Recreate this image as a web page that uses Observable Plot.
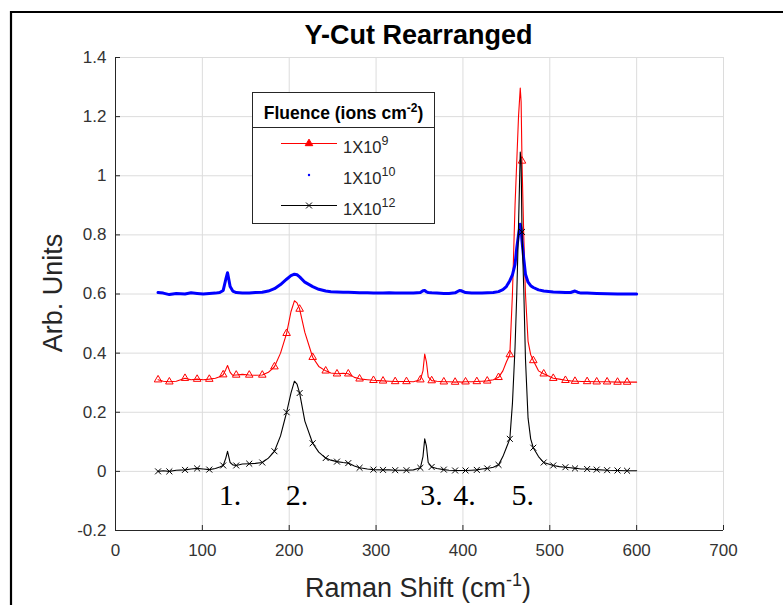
<!DOCTYPE html>
<html>
<head>
<meta charset="utf-8">
<script src="https://cdn.jsdelivr.net/npm/d3@7"></script>
<script src="https://cdn.jsdelivr.net/npm/@observablehq/plot@0.6"></script>
<style>
  html, body { margin: 0; padding: 0; background: #fff; }
  #chart { width: 783px; height: 605px; }
</style>
</head>
<body>
<div id="chart"></div>
<script>
// ---------- data ----------
const ramanShift = [49, 55, 62, 70, 80, 87, 94, 101, 108, 115, 120, 124, 127, 129, 132, 135, 139, 146, 154, 161, 169, 176, 183, 190, 197, 202, 206, 209, 212, 218, 227, 234, 242, 248, 255, 262, 268, 275, 281, 290, 297, 308, 315, 322, 335, 343, 351, 354, 356, 358, 360, 364, 370, 378, 384, 391, 396, 398, 403, 410, 416, 422, 428, 435, 441, 446, 450, 454, 457, 460, 462, 464, 466, 467, 468, 470, 472, 475, 478, 481, 487, 493, 504, 511, 518, 524, 529, 532, 536, 543, 554, 566, 578, 589, 600];

const fluence1e9 = [0.310, 0.305, 0.303, 0.305, 0.315, 0.310, 0.312, 0.310, 0.312, 0.315, 0.320, 0.327, 0.345, 0.358, 0.335, 0.325, 0.326, 0.328, 0.326, 0.325, 0.326, 0.335, 0.354, 0.400, 0.467, 0.540, 0.577, 0.570, 0.549, 0.470, 0.386, 0.355, 0.340, 0.333, 0.330, 0.332, 0.330, 0.318, 0.313, 0.310, 0.308, 0.306, 0.305, 0.304, 0.304, 0.303, 0.310, 0.340, 0.397, 0.370, 0.320, 0.307, 0.305, 0.303, 0.303, 0.302, 0.303, 0.302, 0.303, 0.303, 0.304, 0.305, 0.306, 0.310, 0.318, 0.340, 0.370, 0.395, 0.600, 0.900, 1.050, 1.200, 1.297, 1.250, 1.050, 0.800, 0.600, 0.440, 0.395, 0.375, 0.340, 0.330, 0.315, 0.312, 0.308, 0.306, 0.305, 0.305, 0.304, 0.304, 0.303, 0.303, 0.302, 0.302, 0.302];

const fluence1e10 = [0.605, 0.603, 0.598, 0.602, 0.600, 0.604, 0.602, 0.600, 0.602, 0.603, 0.605, 0.612, 0.650, 0.672, 0.625, 0.610, 0.605, 0.603, 0.603, 0.605, 0.606, 0.610, 0.618, 0.632, 0.650, 0.662, 0.667, 0.665, 0.658, 0.640, 0.625, 0.616, 0.610, 0.608, 0.607, 0.606, 0.606, 0.605, 0.604, 0.604, 0.603, 0.603, 0.604, 0.603, 0.603, 0.603, 0.605, 0.611, 0.612, 0.607, 0.605, 0.604, 0.603, 0.602, 0.602, 0.604, 0.612, 0.611, 0.605, 0.603, 0.603, 0.603, 0.604, 0.605, 0.608, 0.615, 0.625, 0.645, 0.665, 0.700, 0.757, 0.800, 0.836, 0.820, 0.780, 0.720, 0.667, 0.640, 0.628, 0.622, 0.614, 0.610, 0.607, 0.606, 0.605, 0.605, 0.610, 0.606, 0.603, 0.603, 0.602, 0.601, 0.600, 0.600, 0.600];

const fluence1e12 = [0.000, 0.002, 0.000, 0.004, 0.005, 0.008, 0.010, 0.008, 0.006, 0.010, 0.015, 0.020, 0.045, 0.068, 0.030, 0.022, 0.020, 0.025, 0.026, 0.027, 0.030, 0.045, 0.068, 0.120, 0.200, 0.265, 0.305, 0.295, 0.265, 0.170, 0.095, 0.065, 0.045, 0.038, 0.033, 0.030, 0.028, 0.018, 0.012, 0.008, 0.006, 0.005, 0.005, 0.004, 0.004, 0.005, 0.012, 0.050, 0.110, 0.085, 0.030, 0.015, 0.010, 0.006, 0.004, 0.003, 0.003, 0.003, 0.003, 0.004, 0.005, 0.008, 0.010, 0.014, 0.022, 0.050, 0.080, 0.110, 0.230, 0.420, 0.600, 0.830, 1.080, 1.050, 0.810, 0.620, 0.380, 0.180, 0.110, 0.080, 0.050, 0.030, 0.020, 0.016, 0.014, 0.012, 0.010, 0.010, 0.008, 0.008, 0.006, 0.004, 0.003, 0.002, 0.002];

// shifts at which MATLAB drew the markers
const markerShift = [49, 62, 80, 94, 108, 124, 139, 154, 169, 183, 197, 212, 227, 242, 255, 268, 281, 297, 308, 322, 335, 351, 364, 378, 391, 403, 416, 428, 441, 454, 468, 481, 493, 504, 518, 529, 543, 554, 566, 578, 589];

const xTicks = [0, 100, 200, 300, 400, 500, 600, 700];
const xTickLabels = ["0", "100", "200", "300", "400", "500", "600", "700"];
const yTicks = [-0.2, 0, 0.2, 0.4, 0.6, 0.8, 1, 1.2, 1.4];
const yTickLabels = ["-0.2", "0", "0.2", "0.4", "0.6", "0.8", "1", "1.2", "1.4"];

const peakLabels = ["1.", "2.", "3.", "4.", "5."];
const peakLabelShift = [119, 196, 351, 389, 456];
const peakLabelLevel = [-0.081, -0.081, -0.081, -0.081, -0.081];

const titleText = "Y-Cut Rearranged";
const xLabelText = "Raman Shift (cm";
const xLabelSup = "-1";
const yLabelText = "Arb. Units";
const legendTitle = "Fluence (ions cm";
const legendTitleSup = "-2";
const legendBase = ["1X10", "1X10", "1X10"];
const legendExp = ["9", "10", "12"];

// ---------- tables ----------
const rows = (ys) => ramanShift.map((x, i) => ({x, y: ys[i]}));
const red = rows(fluence1e9);
const blue = rows(fluence1e10);
const black = rows(fluence1e12);
const marked = (arr) => arr.filter(d => markerShift.includes(d.x));
const peaks = peakLabels.map((t, i) => ({t, x: peakLabelShift[i], y: peakLabelLevel[i]}));

const SANS = "'Liberation Sans', Arial, Helvetica, sans-serif";
const W = 783, H = 605;
const mL = 115, mR = 60, mT = 57, mB = 75;
const innerW = W - mL - mR, innerH = H - mT - mB;

const chart = Plot.plot({
  width: W, height: H,
  marginLeft: mL, marginRight: mR, marginTop: mT, marginBottom: mB,
  x: {domain: [0, 700]},
  y: {domain: [-0.2, 1.4]},
  style: {fontFamily: SANS, fontSize: "17px", color: "#333", background: "white", overflow: "visible"},
  marks: [
    Plot.ruleX(xTicks, {stroke: "#dcdcdc", strokeWidth: 1}),
    Plot.ruleY(yTicks, {stroke: "#dcdcdc", strokeWidth: 1}),
    Plot.axisX({ticks: xTicks, tickSize: 0, tickPadding: 13, label: null, fontSize: 17,
      tickFormat: d => xTickLabels[xTicks.indexOf(d)]}),
    Plot.axisY({ticks: yTicks, tickSize: 0, tickPadding: 9, label: null, fontSize: 17,
      tickFormat: d => yTickLabels[yTicks.indexOf(d)]}),
    Plot.tickX(xTicks, {stroke: "#262626", insetTop: innerH - 5}),
    Plot.tickY(yTicks, {stroke: "#262626", insetRight: innerW - 5}),
    Plot.ruleX([0], {stroke: "#262626", strokeWidth: 1}),
    Plot.ruleY([-0.2], {stroke: "#262626", strokeWidth: 1}),
    Plot.line(red, {x: "x", y: "y", stroke: "#ff0000", strokeWidth: 1.1}),
    Plot.dot(marked(red), {x: "x", y: "y", symbol: "triangle", stroke: "#ff0000", fill: "none", r: 2.8, strokeWidth: 1}),
    Plot.line(blue, {x: "x", y: "y", stroke: "#0000ff", strokeWidth: 3}),
    Plot.line(black, {x: "x", y: "y", stroke: "#000000", strokeWidth: 1.1}),
    Plot.dot(marked(black), {x: "x", y: "y", symbol: "times", stroke: "#000000", r: 2.8, strokeWidth: 1}),
    Plot.text(peaks, {x: "x", y: "y", text: "t", textAnchor: "start", lineAnchor: "middle",
      fontFamily: "'Liberation Serif', 'Times New Roman', serif", fontSize: 30, fill: "black"})
  ]
});

document.getElementById("chart").appendChild(chart);

const svg = d3.select(chart);

// figure frame (left and top edges visible in reference)
svg.append("path").attr("d", "M11,605V12H783").style("fill", "none").style("stroke", "#000").style("stroke-width", 2.2);

// title
svg.append("text").attr("x", 418.5).attr("y", 44).attr("text-anchor", "middle")
  .style("font-family", SANS).style("font-weight", "bold").style("font-size", "27px").style("fill", "#000")
  .text(titleText);

// y label
svg.append("text").attr("transform", "translate(62,293) rotate(-90)").attr("text-anchor", "middle")
  .style("font-family", SANS).style("font-size", "27px").style("fill", "#262626")
  .text(yLabelText);

// x label
const xl = svg.append("text").attr("x", 418).attr("y", 597).attr("text-anchor", "middle")
  .style("font-family", SANS).style("font-size", "27px").style("fill", "#262626");
xl.append("tspan").text(xLabelText);
xl.append("tspan").attr("dy", -11).style("font-size", "18px").text(xLabelSup);
xl.append("tspan").attr("dy", 11).text(")");

// legend
const lg = svg.append("g").attr("text-anchor", "start");
lg.append("rect").attr("x", 252.5).attr("y", 92.5).attr("width", 182).attr("height", 131)
  .style("fill", "white").style("stroke", "#262626").style("stroke-width", 1);
lg.append("line").attr("x1", 252.5).attr("x2", 434.5).attr("y1", 127.5).attr("y2", 127.5)
  .style("stroke", "#262626").style("stroke-width", 1);
const lt = lg.append("text").attr("x", 343.5).attr("y", 119).attr("text-anchor", "middle")
  .style("font-family", SANS).style("font-weight", "bold").style("font-size", "17.5px").style("fill", "#000");
lt.append("tspan").text(legendTitle);
lt.append("tspan").attr("dy", -7).style("font-size", "12px").text(legendTitleSup);
lt.append("tspan").attr("dy", 7).text(")");

const rowY = [143.5, 175, 205.5];
const colors = ["#ff0000", "#0000ff", "#000000"];
const syms = [d3.symbolTriangle, null, d3.symbolTimes];
legendBase.forEach((b, i) => {
  const y = rowY[i];
  if (i !== 1) {
    lg.append("line").attr("x1", 281).attr("x2", 337).attr("y1", y).attr("y2", y)
      .style("stroke", colors[i]).style("stroke-width", 1.1);
    lg.append("path").attr("transform", `translate(309,${y})`)
      .attr("d", d3.symbol(syms[i], 24.6)())
      .style("fill", i === 0 ? colors[i] : "none").style("stroke", colors[i]).style("stroke-width", 1);
  } else {
    lg.append("circle").attr("cx", 309).attr("cy", y).attr("r", 1.2).style("fill", colors[i]);
  }
  const t = lg.append("text").attr("x", 343).attr("y", y + 9).attr("text-anchor", "start")
    .style("font-family", SANS).style("font-size", "16.5px").style("fill", "#262626");
  t.append("tspan").text(b);
  t.append("tspan").attr("dy", -8).style("font-size", "12.5px").text(legendExp[i]);
});
</script>
</body>
</html>
